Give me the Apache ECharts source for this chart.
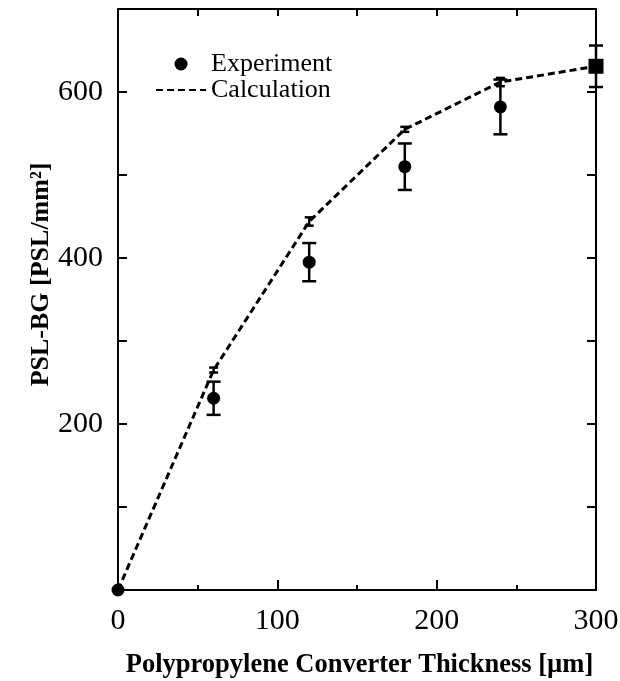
<!DOCTYPE html>
<html>
<head>
<meta charset="utf-8">
<script src="https://cdn.jsdelivr.net/npm/echarts@6/dist/echarts.min.js"></script>
<style>
  html, body { margin: 0; padding: 0; background: #ffffff; }
  #chart { width: 620px; height: 681px; }
</style>
</head>
<body>
<div id="chart"></div>
<script>
// Converter thickness (µm) for each measurement / calculation point
const thickness = [0, 60, 120, 180, 240, 300];
// Measured PSL-BG and its uncertainty
const expPSL = [0, 231, 395, 510, 582, 631];
const expErr = [0, 20, 23, 28, 33, 25];
// Calculated PSL-BG and its uncertainty
const calcPSL = [0, 265, 444, 555, 612, 631];
const calcErr = [0, 3, 5, 3, 5, 0];
// Labelled ticks
const xTickLabels = [0, 100, 200, 300];
const yTickLabels = [200, 400, 600];

const SERIF = '"Liberation Serif", "Times New Roman", serif';
const INK = '#000000';

function errorBars(name, ys, errs, capHalf) {
  const data = [];
  thickness.forEach((x, i) => {
    if (errs[i] > 0) data.push([x, ys[i] - errs[i], ys[i] + errs[i]]);
  });
  return {
    type: 'custom',
    name: name,
    data: data,
    silent: true,
    z: 3,
    renderItem(params, api) {
      const lo = api.coord([api.value(0), api.value(1)]);
      const hi = api.coord([api.value(0), api.value(2)]);
      const style = { stroke: INK, lineWidth: 2.5 };
      return {
        type: 'group',
        children: [
          { type: 'line', shape: { x1: lo[0], y1: lo[1], x2: hi[0], y2: hi[1] }, style },
          { type: 'line', shape: { x1: lo[0] - capHalf, y1: lo[1], x2: lo[0] + capHalf, y2: lo[1] }, style },
          { type: 'line', shape: { x1: hi[0] - capHalf, y1: hi[1], x2: hi[0] + capHalf, y2: hi[1] }, style }
        ]
      };
    }
  };
}

const axisLine = { show: true, onZero: false, lineStyle: { color: INK, width: 2 } };

const chart = echarts.init(document.getElementById('chart'), null, { renderer: 'canvas' });
chart.setOption({
  animation: false,
  backgroundColor: '#ffffff',
  grid: { left: 118, top: 9, width: 478, height: 581, containLabel: false, outerBoundsMode: 'none' },
  legend: {
    orient: 'vertical',
    left: 150,
    top: 46,
    itemWidth: 50,
    itemHeight: 13,
    itemGap: 0,
    selectedMode: false,
    data: [
      { name: 'Experiment', icon: 'circle', itemStyle: { color: INK, opacity: 1 } },
      { name: 'Calculation', itemStyle: { opacity: 0 } }
    ],
    textStyle: { fontFamily: SERIF, fontSize: 26, color: INK }
  },
  xAxis: [
    {
      type: 'value', position: 'bottom', min: 0, max: 300, interval: 100,
      name: 'Polypropylene Converter Thickness [µm]',
      nameLocation: 'middle', nameGap: 62, nameMoveOverlap: false,
      nameTextStyle: { fontFamily: SERIF, fontSize: 26.5, fontWeight: 'bold', color: INK, padding: [0, 0, 0, 5] },
      axisLine: axisLine,
      axisTick: { show: true, inside: true, length: 10, lineStyle: { color: INK, width: 2 } },
      minorTick: { show: true, splitNumber: 2, length: 5, lineStyle: { color: INK, width: 2 } },
      splitLine: { show: false }, minorSplitLine: { show: false },
      axisLabel: {
        fontFamily: SERIF, fontSize: 30, color: INK, margin: 16,
        formatter: v => (xTickLabels.includes(v) ? String(v) : '')
      }
    },
    {
      type: 'value', position: 'top', min: 0, max: 300, interval: 50,
      axisLine: axisLine,
      axisTick: { show: true, inside: true, length: 7, lineStyle: { color: INK, width: 2 } },
      splitLine: { show: false },
      axisLabel: { show: false }
    }
  ],
  yAxis: [
    {
      type: 'value', position: 'left', min: 0, max: 700, interval: 100,
      name: 'PSL-BG [PSL/mm²]',
      nameLocation: 'middle', nameGap: 64, nameMoveOverlap: false,
      nameTextStyle: { fontFamily: SERIF, fontSize: 26, fontWeight: 'bold', color: INK, padding: [0, 0, 0, 50] },
      axisLine: axisLine,
      axisTick: { show: true, inside: true, length: 9, lineStyle: { color: INK, width: 2 } },
      splitLine: { show: false },
      axisLabel: {
        fontFamily: SERIF, fontSize: 30, color: INK, margin: 15,
        formatter: v => (yTickLabels.includes(v) ? String(v) : '')
      }
    },
    {
      type: 'value', position: 'right', min: 0, max: 700, interval: 100,
      axisLine: axisLine,
      axisTick: { show: true, inside: true, length: 9, lineStyle: { color: INK, width: 2 } },
      splitLine: { show: false },
      axisLabel: { show: false }
    }
  ],
  series: [
    {
      name: 'Calculation',
      type: 'line',
      xAxisIndex: 0, yAxisIndex: 0,
      data: thickness.map((x, i) => [x, calcPSL[i]]),
      symbol: 'none',
      lineStyle: { color: INK, width: 3, type: [7, 4] },
      itemStyle: { color: INK },
      z: 2
    },
    errorBars('calcErr', calcPSL, calcErr, 4.5),
    errorBars('expErr', expPSL, expErr, 7),
    {
      name: 'Experiment',
      type: 'scatter',
      xAxisIndex: 0, yAxisIndex: 0,
      clip: false,
      data: thickness.map((x, i) => {
        const last = i === thickness.length - 1;
        return { value: [x, expPSL[i]], symbol: last ? 'rect' : 'circle', symbolSize: last ? 15 : 13 };
      }),
      symbol: 'circle',
      symbolSize: 13,
      itemStyle: { color: INK, opacity: 1 },
      z: 4
    }
  ]
});
</script>
</body>
</html>
